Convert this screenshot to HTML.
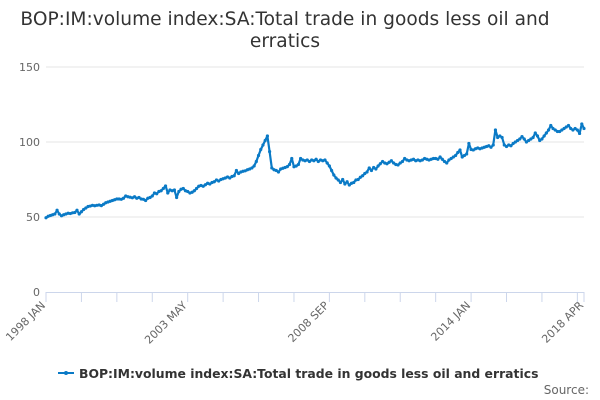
<!DOCTYPE html>
<html><head><meta charset="utf-8"><style>
body{margin:0;background:#fff;}
svg{display:block;font-family:"DejaVu Sans","Liberation Sans",sans-serif;}
</style></head><body>
<svg id="chart" width="600" height="400" viewBox="0 0 600 400">
<text x="285" y="25" text-anchor="middle" font-size="18.6" fill="#333"><tspan x="285" y="25">BOP:IM:volume index:SA:Total trade in goods less oil and</tspan><tspan x="285" y="47">erratics</tspan></text>
<g id="grid"></g>
<g id="yaxis"></g>
<g id="xaxis"></g>
<g id="series"></g>
<g>
<line x1="58" y1="373" x2="74" y2="373" stroke="#0a7ac6" stroke-width="2"/>
<circle cx="66" cy="373" r="2" fill="#0a7ac6"/>
<text x="79" y="378" font-size="12.4" font-weight="bold" fill="#333">BOP:IM:volume index:SA:Total trade in goods less oil and erratics</text>
</g>
<text x="589" y="394" text-anchor="end" font-size="12" fill="#666">Source:</text>
</svg>
<script>
const values = [
49.5,50.5,51,51.5,52,54.5,52,50.8,51.5,52,52.5,52.3,
52.8,53,54.5,52,53.5,55,56,57,57.3,57.8,57.5,57.8,
58,57.6,58.5,59.5,60,60.5,61,61.5,62,62,61.8,62.5,
64,63.5,63.2,62.8,63.5,62.5,63,62,61.8,61,62.5,63,
64,66,65.5,67,67.5,69,70.7,66,68,67.5,68,63,
67,68.5,69,67.5,67,66,66.5,67.5,69,70.5,71,70.5,
71.5,72.5,72,73,73.5,74.7,74,75,75.5,76,76.7,76,
77,77.5,81,79,80,80.5,80.8,81.5,82,82.7,84,87,
91,95,98,101,104,93.6,82.7,81.5,81,80,82,82.5,
83,83.6,85,89,83.5,84,85,89,88,87.5,88,87,
88,87.5,88.5,87,88,87.5,88,86,84,81,78,76,
74.7,73,75,72,73.5,71.3,72.5,73,74.7,75,76.5,77.5,
79,80,82.7,81,83,82,84,85.5,87,86,85.5,86.5,
87.5,86,85,84.7,86,87,89,88,87.5,88,88.5,87.5,
88,87.5,88,89,88.5,88,88.5,89,89,88.5,90,88.5,
87,86,88,89,90,91,93,94.7,90,91,92,99,
95,94.7,95.5,96,95.5,96,96.5,97,97.5,96.5,98,108,
103,104,103,98,97,98,97.5,99,100,101,102,103.6,
102,100,101,102,103,106,104,101,102,104,106,108,
111,109,108,107,107,108,109,110,111,109,108,109,
108,105.7,112,109
];
const yTicks = [0,50,100,150];
const xLabels = ["1998 JAN","2003 MAY","2008 SEP","2014 JAN","2018 APR"];
const xLabelIdx = [0,64,128,192,243];
const tickEvery = 16;

const ns="http://www.w3.org/2000/svg";
const X0=46,X1=584,Y0=292,Y1=67,YMAX=150;
const n=values.length;
const xs=i=>X0+(X1-X0)*i/(n-1);
const ys=v=>Y0-(Y0-Y1)*v/YMAX;
function mk(tag,attrs,parent){const e=document.createElementNS(ns,tag);for(const k in attrs)e.setAttribute(k,attrs[k]);parent.appendChild(e);return e;}
const grid=document.getElementById('grid'),ya=document.getElementById('yaxis'),xa=document.getElementById('xaxis'),se=document.getElementById('series');
yTicks.forEach(t=>{
  if(t>0){const l=mk('line',{x1:X0,x2:X1,y1:ys(t),y2:ys(t),stroke:'#e6e6e6','stroke-width':1},grid);
  
  }
  const tx=mk('text',{x:40,y:ys(t)+4,'text-anchor':'end','font-size':11,fill:'#666'},ya);
  tx.textContent=t;
  
  
});
mk('line',{x1:X0,x2:X1,y1:Y0+0.5,y2:Y0+0.5,stroke:'#ccd6eb','stroke-width':1},xa);
for(let i=0;i<n;i+=tickEvery){mk('line',{x1:xs(i),x2:xs(i),y1:Y0,y2:Y0+10,stroke:'#ccd6eb'},xa);}
mk('line',{x1:xs(n-1),x2:xs(n-1),y1:Y0,y2:Y0+10,stroke:'#ccd6eb'},xa);
xLabels.forEach((lab,k)=>{
  const x=xs(xLabelIdx[k]),y=Y0+14;
  const t=mk('text',{x:x,y:y,'text-anchor':'end','font-size':11,fill:'#666',transform:`rotate(-45 ${x} ${y})`},xa);
  t.textContent=lab;
  
  
});
let d='';values.forEach((v,i)=>{d+=(i?'L':'M')+xs(i).toFixed(1)+' '+ys(v).toFixed(1);});
const p=mk('path',{d:d,fill:'none',stroke:'#0a7ac6','stroke-width':2.2,'stroke-linejoin':'round'},se);


values.forEach((v,i)=>{
  const c=mk('circle',{cx:xs(i),cy:ys(v),r:1.6,fill:'#0a7ac6'},se);
  
  
});
</script>
</body></html>
